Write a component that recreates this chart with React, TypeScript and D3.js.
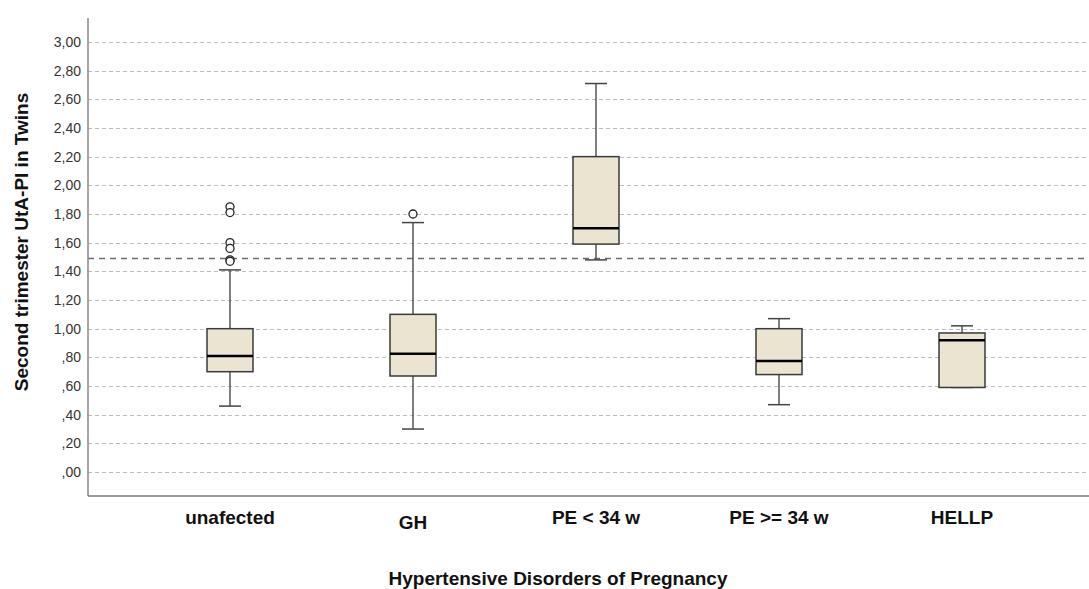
import React from "react";
import * as d3 from "d3";

// Hypertensive disorder groups and their box-plot statistics
const categories = ["unafected", "GH", "PE < 34 w", "PE >= 34 w", "HELLP"];
const whiskerLow = [0.46, 0.30, 1.48, 0.47, 0.59];
const q1 = [0.70, 0.67, 1.59, 0.68, 0.59];
const median = [0.81, 0.825, 1.70, 0.775, 0.92];
const q3 = [1.00, 1.10, 2.20, 1.00, 0.97];
const whiskerHigh = [1.41, 1.74, 2.71, 1.07, 1.02];
// Outliers per group
const outliers: number[][] = [
  [1.85, 1.81, 1.60, 1.56, 1.48, 1.47],
  [1.80],
  [],
  [],
  [],
];
const referenceValue = 1.49;
const yTicks = d3.range(0, 3.0001, 0.2);
const yTitle = "Second trimester UtA-PI in Twins";
const xTitle = "Hypertensive Disorders of Pregnancy";

const W = 1089;
const H = 589;
const left = 88;
const right = 1089;
const top = 18;
const bottom = 496;

const fmt = (v: number) => {
  const s = v.toFixed(2).replace(".", ",");
  return s.startsWith("0") ? s.slice(1) : s;
};

export default function App() {
  const y = d3.scaleLinear().domain([-0.167, 3.167]).range([bottom, top]);
  const x = d3.scaleBand<string>().domain(categories).range([138.5, 1053.5]);
  const boxW = 46;
  const capW = 22;
  const font = "'Liberation Sans', Arial, sans-serif";

  return (
    <svg
      width={W}
      height={H}
      style={{ position: "absolute", left: 0, top: 0, background: "#fff" }}
      fontFamily={font}
    >
      {/* gridlines */}
      {yTicks.map((t) => (
        <line
          key={"g" + t}
          x1={left}
          x2={right}
          y1={Math.round(y(t)) + 0.5}
          y2={Math.round(y(t)) + 0.5}
          stroke="#bdbdbd"
          strokeWidth={1}
          strokeDasharray="4 3"
        />
      ))}
      {/* reference line */}
      <line
        x1={left}
        x2={right}
        y1={y(referenceValue)}
        y2={y(referenceValue)}
        stroke="#6e6e6e"
        strokeWidth={1.5}
        strokeDasharray="6 5"
      />
      {/* y tick labels */}
      {yTicks.map((t) => (
        <text
          key={"t" + t}
          x={81}
          y={y(t)}
          dy="0.36em"
          textAnchor="end"
          fontSize={14}
          fill="#333"
        >
          {fmt(t)}
        </text>
      ))}
      {/* boxes */}
      {categories.map((c, i) => {
        const cx = (x(c) as number) + x.bandwidth() / 2;
        return (
          <g key={c}>
            <line x1={cx} x2={cx} y1={y(whiskerHigh[i])} y2={y(q3[i])} stroke="#555" strokeWidth={1.5} />
            <line x1={cx} x2={cx} y1={y(q1[i])} y2={y(whiskerLow[i])} stroke="#555" strokeWidth={1.5} />
            <line x1={cx - capW / 2} x2={cx + capW / 2} y1={y(whiskerHigh[i])} y2={y(whiskerHigh[i])} stroke="#444" strokeWidth={1.5} />
            <line x1={cx - capW / 2} x2={cx + capW / 2} y1={y(whiskerLow[i])} y2={y(whiskerLow[i])} stroke="#444" strokeWidth={1.5} />
            <rect
              x={cx - boxW / 2}
              y={y(q3[i])}
              width={boxW}
              height={y(q1[i]) - y(q3[i])}
              fill="#ebe4d0"
              stroke="#3a3a3a"
              strokeWidth={1.5}
            />
            <line x1={cx - boxW / 2} x2={cx + boxW / 2} y1={y(median[i])} y2={y(median[i])} stroke="#000" strokeWidth={2.5} />
            {outliers[i].map((o, j) => (
              <circle key={j} cx={cx} cy={y(o)} r={4} fill="#fff" stroke="#222" strokeWidth={1.3} />
            ))}
          </g>
        );
      })}
      {/* axes */}
      <line x1={left} x2={left} y1={top} y2={bottom} stroke="#888" strokeWidth={1.5} />
      <line x1={left} x2={right} y1={bottom} y2={bottom} stroke="#777" strokeWidth={1.5} />
      {/* category labels */}
      {categories.map((c, i) => (
        <text
          key={"c" + c}
          x={(x(c) as number) + x.bandwidth() / 2}
          y={i === 1 ? 529 : 524}
          textAnchor="middle"
          fontSize={19}
          fontWeight="bold"
          fill="#111"
        >
          {c}
        </text>
      ))}
      {/* axis titles */}
      <text x={558} y={585} textAnchor="middle" fontSize={19} fontWeight="bold" fill="#111">
        {xTitle}
      </text>
      <text
        transform={`translate(28, 242) rotate(-90)`}
        textAnchor="middle"
        fontSize={19}
        fontWeight="bold"
        fill="#111"
      >
        {yTitle}
      </text>
    </svg>
  );
}
